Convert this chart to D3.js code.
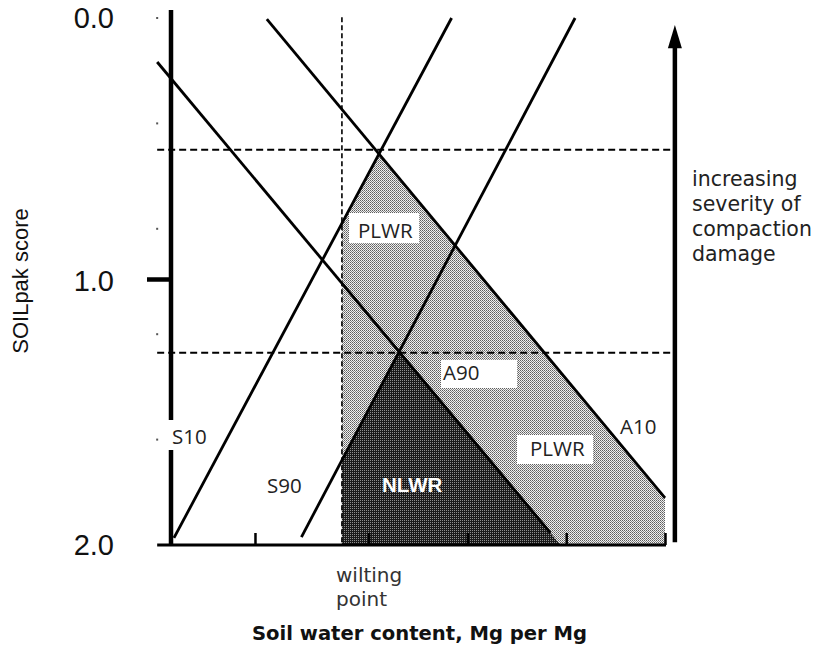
<!DOCTYPE html>
<html>
<head>
<meta charset="utf-8">
<script src="https://cdn.jsdelivr.net/npm/d3@7"></script>
<style>
  body { margin: 0; background: #fff; }
</style>
</head>
<body>
<svg id="chart" width="826" height="652"></svg>
<script>
// y axis: SOILpak score (0 at top, 2 at bottom)
const yLabelTicks = [0, 1, 2];
const yLabelText = ['0.0', '1.0', '2.0'];
const yMajorTick = [1];
const yMinorTicks = [0, 0.4, 0.8, 1.2, 1.6];

// x axis: soil water content (no labels on the original)
const xTicks = [0.085, 0.2, 0.3, 0.4, 0.5];
const wiltingPoint = 0.173;
const scoreLevels = [0.5, 1.27];

// the four boundary lines, [water, score] at each end
const lineNames = ['S10', 'S90', 'A90', 'A10'];
const lineStart = [[0.003, 1.973], [0.132, 1.970], [-0.014, 0.167], [0.097, 0.004]];
const lineEnd = [[0.284, 0.0], [0.409, 0.0], [0.384, 1.954], [0.5, 1.821]];

const rightNote = ['increasing', 'severity of', 'compaction', 'damage'];

const svg = d3.select('#chart');
const x = d3.scaleLinear().domain([0, 0.5]).range([171, 665]);
const y = d3.scaleLinear().domain([0, 2]).range([18, 545]);

// shading patterns (stipple look of the original)
const defs = svg.append('defs');
const light = defs.append('pattern').attr('id', 'light')
    .attr('patternUnits', 'userSpaceOnUse').attr('width', 2).attr('height', 2);
light.append('rect').attr('width', 2).attr('height', 2).attr('fill', '#f0f0f0');
light.append('rect').attr('width', 1).attr('height', 1).attr('fill', '#5e5e5e');
light.append('rect').attr('x', 1).attr('y', 1).attr('width', 1).attr('height', 1).attr('fill', '#858585');

const dark = defs.append('pattern').attr('id', 'dark')
    .attr('patternUnits', 'userSpaceOnUse').attr('width', 2).attr('height', 2);
dark.append('rect').attr('width', 2).attr('height', 2).attr('fill', '#1a1a1a');
dark.append('rect').attr('width', 1).attr('height', 1).attr('fill', '#8e8e8e');

// helpers on the lines
function lineAtX(i, wx) {
    const [x0, y0] = lineStart[i], [x1, y1] = lineEnd[i];
    return y0 + (wx - x0) * (y1 - y0) / (x1 - x0);
}
function lineAtY(i, sy) {
    const [x0, y0] = lineStart[i], [x1, y1] = lineEnd[i];
    return x0 + (sy - y0) * (x1 - x0) / (y1 - y0);
}
function cross(i, j) {
    const [a0, b0] = lineStart[i], [a1, b1] = lineEnd[i];
    const [c0, d0] = lineStart[j], [c1, d1] = lineEnd[j];
    const m1 = (b1 - b0) / (a1 - a0), m2 = (d1 - d0) / (c1 - c0);
    const wx = (d0 - b0 + m1 * a0 - m2 * c0) / (m1 - m2);
    return [wx, b0 + m1 * (wx - a0)];
}

const S10 = 0, S90 = 1, A90 = 2, A10 = 3;
const area = d3.line().x(d => x(d[0])).y(d => y(d[1]));

// potentially limiting water range
const plwr = [
    [wiltingPoint, 2],
    [wiltingPoint, lineAtX(S10, wiltingPoint)],
    cross(S10, A10),
    lineEnd[A10],
    [lineEnd[A10][0], 2]
];
svg.append('path').attr('d', area(plwr) + 'Z').attr('fill', 'url(#light)');

// non-limiting water range
const nlwr = [
    [wiltingPoint, 2],
    [wiltingPoint, lineAtX(S90, wiltingPoint)],
    cross(S90, A90),
    [lineAtY(A90, 2), 2]
];
svg.append('path').attr('d', area(nlwr) + 'Z').attr('fill', 'url(#dark)');

// dashed guides
svg.selectAll('.level')
    .data(scoreLevels)
    .join('line')
    .attr('class', 'level')
    .attr('x1', x(-0.014)).attr('x2', x(0.507))
    .attr('y1', d => y(d)).attr('y2', d => y(d))
    .attr('stroke', '#000').attr('stroke-width', 2)
    .attr('stroke-dasharray', '7,4');

svg.append('line')
    .attr('x1', x(wiltingPoint)).attr('x2', x(wiltingPoint))
    .attr('y1', y(-0.003)).attr('y2', y(2))
    .attr('stroke', '#000').attr('stroke-width', 1.6)
    .attr('stroke-dasharray', '5,3');

// boundary lines
svg.selectAll('.bound')
    .data(lineNames)
    .join('line')
    .attr('class', 'bound')
    .attr('x1', (d, i) => x(lineStart[i][0]))
    .attr('y1', (d, i) => y(lineStart[i][1]))
    .attr('x2', (d, i) => x(lineEnd[i][0]))
    .attr('y2', (d, i) => y(lineEnd[i][1]))
    .attr('stroke', '#000').attr('stroke-width', 2.8);

// y axis
const yAxis = svg.append('g')
    .attr('transform', `translate(${x(0)},0)`)
    .call(d3.axisLeft(y).tickValues(yLabelTicks).tickSize(0).tickPadding(57)
        .tickFormat((d, i) => yLabelText[i]));
yAxis.select('.domain').remove();
yAxis.selectAll('text')
    .attr('font-family', 'Liberation Sans, Arial, sans-serif')
    .attr('font-size', 29).attr('fill', '#111');

svg.append('line')
    .attr('x1', x(0)).attr('x2', x(0))
    .attr('y1', y(-0.03)).attr('y2', y(2))
    .attr('stroke', '#000').attr('stroke-width', 4.5);

svg.selectAll('.ymajor')
    .data(yMajorTick)
    .join('line')
    .attr('class', 'ymajor')
    .attr('x1', x(0) - 24).attr('x2', x(0))
    .attr('y1', d => y(d) - 2).attr('y2', d => y(d) - 2)
    .attr('stroke', '#000').attr('stroke-width', 4.5);

svg.selectAll('.yminor')
    .data(yMinorTicks)
    .join('rect')
    .attr('class', 'yminor')
    .attr('x', x(-0.014) - 1).attr('y', d => y(d) - 1)
    .attr('width', 2).attr('height', 2)
    .attr('fill', '#555');

// x axis
const xAxis = svg.append('g')
    .attr('transform', `translate(0,${y(2)})`)
    .call(d3.axisBottom(x).tickValues(xTicks).tickSize(-12).tickFormat(''));
xAxis.select('.domain').remove();
xAxis.selectAll('.tick line').attr('stroke', '#000').attr('stroke-width', 2.5);

svg.append('line')
    .attr('x1', x(-0.014)).attr('x2', x(0.5) + 1)
    .attr('y1', y(2)).attr('y2', y(2))
    .attr('stroke', '#000').attr('stroke-width', 3);

// severity arrow
const ax = x(0.51);
svg.append('line')
    .attr('x1', ax).attr('x2', ax)
    .attr('y1', y(1.99)).attr('y2', y(0.1))
    .attr('stroke', '#000').attr('stroke-width', 4.5);
svg.append('path')
    .attr('d', `M${ax},${y(0.027)} L${ax - 7},${y(0.115)} L${ax + 7},${y(0.115)} Z`)
    .attr('fill', '#000');

svg.append('g')
    .selectAll('text')
    .data(rightNote)
    .join('text')
    .attr('x', 692)
    .attr('y', (d, i) => 186 + i * 25)
    .attr('font-family', 'DejaVu Sans, sans-serif')
    .attr('font-size', 20.5)
    .attr('fill', '#222')
    .text(d => d);

// region and line labels
const labelFont = 'Open Sans, Noto Sans, sans-serif';
function boxLabel(txt, bx, by, bw, bh, tx, ty) {
    if (bw > 0) {
        svg.append('rect').attr('x', bx).attr('y', by)
            .attr('width', bw).attr('height', bh).attr('fill', '#fff');
    }
    svg.append('text').attr('x', tx).attr('y', ty)
        .attr('font-family', labelFont).attr('font-size', 20.5)
        .attr('fill', '#222').text(txt);
}
boxLabel('PLWR', 349, 213, 70, 30, 358, 238);
boxLabel('A90', 441, 360, 76, 28, 443, 380);
boxLabel('PLWR', 517, 435, 76, 29, 530, 456);
boxLabel('S10', 164, 420, 46, 30, 172, 444);
boxLabel('A10', 0, 0, 0, 0, 620, 434);
boxLabel('S90', 0, 0, 0, 0, 267, 493);

svg.append('text')
    .attr('x', 382).attr('y', 492)
    .attr('font-family', 'Liberation Sans, Arial, sans-serif')
    .attr('font-size', 20.5).attr('font-weight', 'bold')
    .attr('fill', '#fff').text('NLWR');

// axis titles
svg.append('g')
    .selectAll('text')
    .data(['wilting', 'point'])
    .join('text')
    .attr('x', 336)
    .attr('y', (d, i) => 582 + i * 24)
    .attr('font-family', 'DejaVu Sans, sans-serif')
    .attr('font-size', 20)
    .attr('fill', '#333')
    .text(d => d);

svg.append('text')
    .attr('x', 252).attr('y', 640)
    .attr('font-family', 'DejaVu Sans, sans-serif')
    .attr('font-size', 19).attr('font-weight', 'bold')
    .attr('textLength', 335).attr('lengthAdjust', 'spacingAndGlyphs')
    .attr('fill', '#111')
    .text('Soil water content, Mg per Mg');

svg.append('text')
    .attr('transform', 'translate(28,281) rotate(-90)')
    .attr('text-anchor', 'middle')
    .attr('font-family', 'Liberation Sans, Arial, sans-serif')
    .attr('font-size', 22)
    .attr('fill', '#111')
    .text('SOILpak score');
</script>
</body>
</html>
